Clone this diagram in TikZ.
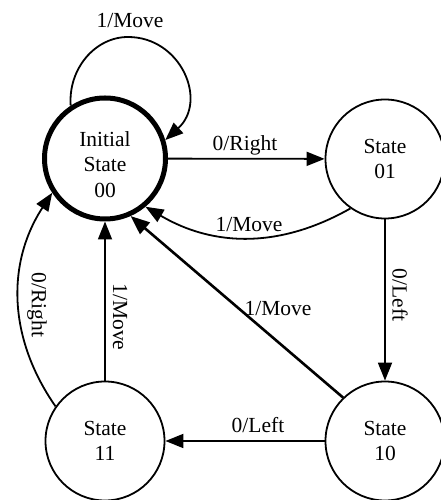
\documentclass[tikz,border=0pt]{standalone}
\usepackage{fontspec}
\setmainfont{Liberation Serif}
\usetikzlibrary{arrows.meta}
\begin{document}
\begin{tikzpicture}[x=1pt,y=1pt,
  state/.style={circle, draw, line width=1.8pt, minimum size=119pt, inner sep=0pt,
    align=center, font=\fontsize{21.5}{25.5}\selectfont},
  startstate/.style={state, line width=5pt, minimum size=121pt},
  arr/.style={line width=1.8pt, -{Triangle[length=18pt,width=14pt]}},
  heavyarr/.style={line width=2.6pt, -{Triangle[length=19pt,width=15pt]}},
  lbl/.style={font=\fontsize{21.5}{25.5}\selectfont, inner sep=0pt}]
\useasboundingbox (0,0) rectangle (441,500);

% states (the tall strut sets the start-state text a little low)
\node[startstate] (init) at (105,341.5) {\rule{0pt}{27pt}Initial\\State\\00};
\node[state] (s01) at (385,341) {State\\01};
\node[state] (s10) at (385,59) {State\\10};
\node[state] (s11) at (105,59) {State\\11};

% self loop on the initial state
\coordinate (looptop) at (128,463);
\draw[arr] (init.123) .. controls (68,431) and (95,463) .. (looptop)
  .. controls (181,463) and (208,399) .. (init.17);
\node[lbl] (lloop) at (130,479) {1/Move};

% transitions
\draw[arr] (init) -- (s01);
\node[lbl] (l0r) at (245,355) {0/Right};

\draw[arr] (s01.235) to[bend left=30] (init.-50);
\node[lbl] (l1m) at (249,275) {1/Move};

\draw[arr] (s01) -- (s10);
\node[lbl, rotate=-90] (l0l) at (400,205) {0/Left};

\draw[heavyarr] (s10.134) -- (init.-66);
\node[lbl] (l1d) at (278,191) {1/Move};

\draw[arr] (s10) -- (s11);
\node[lbl] (l0b) at (258,75) {0/Left};

\draw[arr] (s11) -- (init);
\node[lbl, rotate=-90] (l1v) at (120,183) {1/Move};

\draw[arr] (s11.145) to[bend left=34] (init.213);
\node[lbl, rotate=-90] (l0rl) at (37,195) {0/Right};
\end{tikzpicture}
\end{document}
